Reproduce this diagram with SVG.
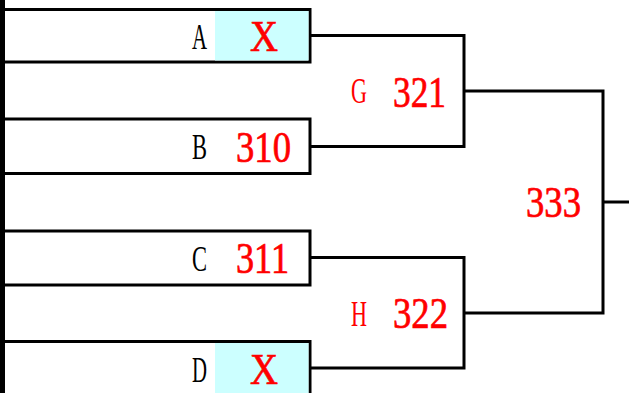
<svg xmlns="http://www.w3.org/2000/svg" width="629" height="393" viewBox="0 0 629 393">
<style>
.box{fill:#fff;stroke:#000;stroke-width:3}
.hit{fill:#ccffff;stroke:none}
.ln{fill:none;stroke:#000;stroke-width:3}
.lab{font-family:"Liberation Serif",serif;font-size:35px;fill:#000}
.lr{font-family:"Liberation Serif",serif;font-size:35px;fill:#ff0000}
.num{font-family:"Liberation Serif",serif;font-size:44px;fill:#ff0000;stroke:#ff0000;stroke-width:0.7}
</style>
<rect width="629" height="393" fill="#fff"/>
<g id="connectors">
<path class="ln" d="M310,35.5 H464 V146.5 H310"/>
<path class="ln" d="M310,257.5 H464 V368 H310"/>
<path class="ln" d="M464,91 H603 V313 H464"/>
<path class="ln" d="M603,202 H629"/>
</g>
<g id="nodeA">
<rect class="box" x="3" y="9.5" width="307" height="52.5"/>
<rect class="hit" x="215" y="11" width="93.5" height="49.5"/>
<text class="lab" x="192" y="49" textLength="15" lengthAdjust="spacingAndGlyphs">A</text>
<text class="num" x="250" y="51" textLength="28" lengthAdjust="spacingAndGlyphs">X</text>
</g>
<g id="nodeB">
<rect class="box" x="3" y="119" width="307" height="54.5"/>
<text class="lab" x="192" y="159" textLength="15" lengthAdjust="spacingAndGlyphs">B</text>
<text class="num" x="236" y="161.5" textLength="55" lengthAdjust="spacingAndGlyphs">310</text>
</g>
<g id="nodeC">
<rect class="box" x="3" y="231" width="307" height="54"/>
<text class="lab" x="192" y="271" textLength="15" lengthAdjust="spacingAndGlyphs">C</text>
<text class="num" x="236" y="272.5" textLength="53" lengthAdjust="spacingAndGlyphs">311</text>
</g>
<g id="nodeD">
<rect class="box" x="3" y="341.5" width="307" height="60"/>
<rect class="hit" x="215" y="343" width="93.5" height="52"/>
<text class="lab" x="192" y="382" textLength="15" lengthAdjust="spacingAndGlyphs">D</text>
<text class="num" x="250" y="384" textLength="28" lengthAdjust="spacingAndGlyphs">X</text>
</g>
<g id="nodeG">
<text class="lr" x="351" y="103" textLength="16" lengthAdjust="spacingAndGlyphs">G</text>
<text class="num" x="393" y="106.5" textLength="53" lengthAdjust="spacingAndGlyphs">321</text>
</g>
<g id="nodeH">
<text class="lr" x="351" y="326" textLength="16" lengthAdjust="spacingAndGlyphs">H</text>
<text class="num" x="393" y="328" textLength="55" lengthAdjust="spacingAndGlyphs">322</text>
</g>
<g id="nodeFinal">
<text class="num" x="526" y="216.5" textLength="55" lengthAdjust="spacingAndGlyphs">333</text>
</g>
<rect id="bar" x="0" y="0" width="5" height="393" fill="#000"/>
</svg>
